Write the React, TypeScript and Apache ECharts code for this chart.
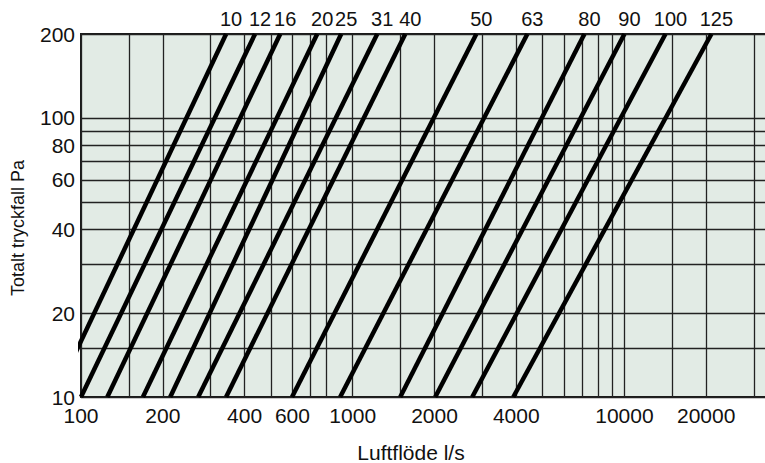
import React, { useEffect, useRef } from "react";
import * as echarts from "echarts";

// Duct sizes (line labels)
const seriesNames = ["10", "12", "16", "20", "25", "31", "40", "50", "63", "80", "90", "100", "125"];
// Air flow (l/s) where each line meets 10 Pa and 200 Pa
const flowAt10Pa = [80, 100, 125, 169, 213, 270, 342, 598, 899, 1496, 2013, 2754, 3900];
const flowAt200Pa = [342, 437, 541, 740, 907, 1231, 1561, 2851, 4393, 7125, 10000, 14160, 20900];
const pressureEnds = [10, 200];

const xLabelValues = [100, 200, 400, 600, 1000, 2000, 4000, 10000, 20000];
const xGridValues = [100, 150, 200, 300, 400, 500, 600, 700, 800, 1000, 1500, 2000, 3000, 4000, 5000, 6000, 7000, 8000, 9000, 10000, 15000, 20000, 30000];
const yLabelValues = [10, 20, 40, 60, 80, 100, 200];
const yGridValues = [10, 15, 20, 30, 40, 50, 60, 70, 80, 90, 100, 200];

const xName = "Luftflöde l/s";
const yName = "Totalt tryckfall Pa";

const FONT = "'Liberation Sans', Arial, Helvetica, sans-serif";

export default function App() {
  const ref = useRef<HTMLDivElement>(null);
  useEffect(() => {
    if (!ref.current) return;
    const chart = echarts.init(ref.current, undefined, { renderer: "svg" });
    const series = seriesNames.map((name, i) => ({
      type: "line",
      name,
      symbol: "circle",
      symbolSize: 0,
      showSymbol: true,
      clip: true,
      silent: true,
      lineStyle: { color: "#000", width: 4.5 },
      itemStyle: { color: "#000" },
      data: [
        [flowAt10Pa[i], pressureEnds[0]],
        {
          value: [flowAt200Pa[i], pressureEnds[1]],
          label: {
            show: true,
            position: "top",
            distance: 5,
            offset: [5, 0],
            formatter: name,
            color: "#111",
            fontSize: 20,
            fontFamily: FONT,
          },
        },
      ],
    }));
    chart.setOption({
      animation: false,
      grid: {
        left: 81,
        top: 34,
        width: 707,
        height: 363,
        outerBoundsMode: "none",
        containLabel: false,
        show: true,
        backgroundColor: "#e2ebe5",
        borderColor: "#1a1a1a",
        borderWidth: 2,
      },
      xAxis: {
        type: "log",
        logBase: 10,
        min: 100,
        max: 40000,
        axisLine: { show: false },
        axisTick: { show: false, customValues: xGridValues },
        axisLabel: {
          customValues: xLabelValues,
          formatter: (v: number) => String(Math.round(v)),
          margin: 8,
          color: "#111",
          fontSize: 21,
          fontFamily: FONT,
        },
        splitLine: { show: true, lineStyle: { color: "#222", width: 1.3 } },
        minorTick: { show: false },
        minorSplitLine: { show: false },
      },
      yAxis: {
        type: "log",
        logBase: 10,
        min: 10,
        max: 200,
        axisLine: { show: false },
        axisTick: { show: false, customValues: yGridValues },
        axisLabel: {
          customValues: yLabelValues,
          formatter: (v: number) => String(Math.round(v)),
          margin: 6,
          color: "#111",
          fontSize: 21,
          fontFamily: FONT,
        },
        splitLine: { show: true, lineStyle: { color: "#222", width: 1.3 } },
      },
      graphic: [
        {
          type: "text",
          x: 411,
          y: 452,
          style: {
            text: xName,
            align: "center",
            verticalAlign: "middle",
            fill: "#111",
            font: `21px ${FONT}`,
          },
        },
        {
          type: "text",
          x: 18,
          y: 228,
          rotation: Math.PI / 2,
          style: {
            text: yName,
            align: "center",
            verticalAlign: "middle",
            fill: "#111",
            font: `18px ${FONT}`,
          },
        },
      ],
      series,
    });
    return () => chart.dispose();
  }, []);
  return (
    <div
      ref={ref}
      style={{ position: "absolute", left: 0, top: 0, width: 765, height: 463 }}
    />
  );
}
